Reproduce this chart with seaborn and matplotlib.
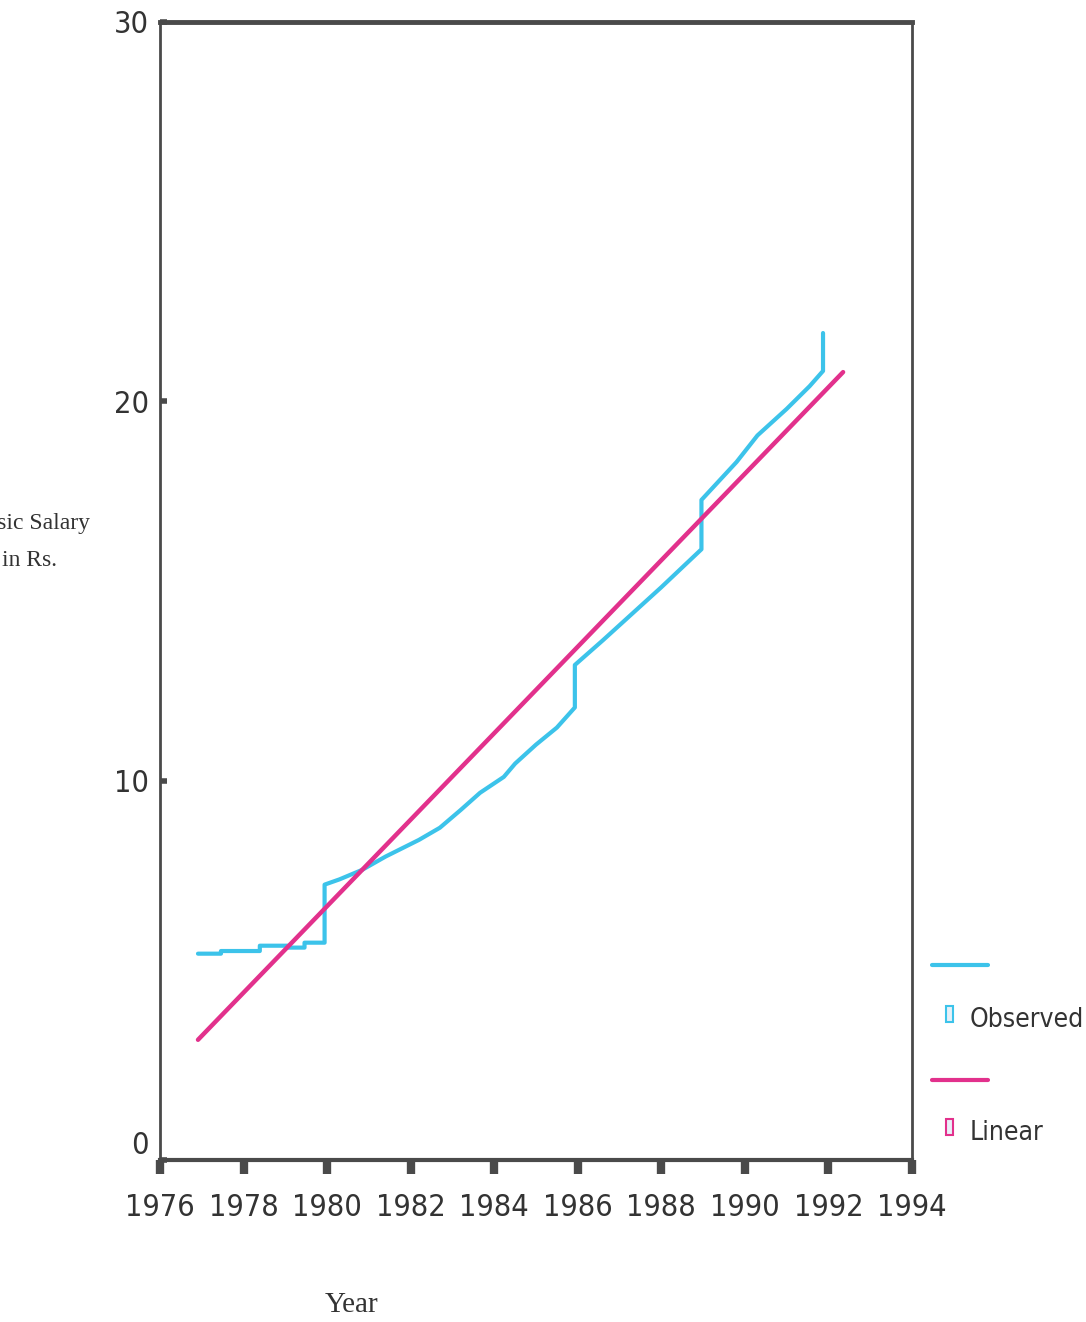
import matplotlib
matplotlib.use("Agg")
import matplotlib.pyplot as plt
from matplotlib.lines import Line2D
from matplotlib.patches import Rectangle
import pandas as pd
import seaborn as sns

CYAN = "#3cc3ea"
MAGENTA = "#e2318c"
AXIS = "#4a4a4a"

# observed salary (step jumps are repeated years)
OBS_YEAR = [1976.91, 1977.46, 1977.46, 1978.39, 1978.39, 1979.05, 1979.05,
            1979.46, 1979.46, 1979.94, 1979.94, 1980.3, 1980.84, 1981.4,
            1982.2, 1982.7, 1983.2, 1983.66, 1984.23, 1984.5, 1985.0, 1985.5,
            1985.93, 1985.93, 1986.6, 1987.3, 1988.0, 1988.96, 1988.96,
            1989.8, 1990.3, 1991.0, 1991.55, 1991.87, 1991.87]
OBS_SAL = [5.44, 5.44, 5.51, 5.51, 5.65, 5.65, 5.6,
           5.6, 5.73, 5.73, 7.26, 7.4, 7.65, 8.0,
           8.44, 8.76, 9.23, 9.68, 10.1, 10.45, 10.95, 11.4,
           11.93, 13.05, 13.7, 14.4, 15.1, 16.1, 17.4,
           18.4, 19.1, 19.8, 20.4, 20.8, 21.8]
# linear fit end points
LIN_YEAR = [1976.91, 1992.35]
LIN_SAL = [3.17, 20.77]

X_TICKS = list(range(1976, 1995, 2))
Y_TICKS = [0, 10, 20, 30]

obs = pd.DataFrame({"year": OBS_YEAR, "salary": OBS_SAL})
lin = pd.DataFrame({"year": LIN_YEAR, "salary": LIN_SAL})

sns.set_theme(style="white")
SANS = ["DejaVu Sans"]
SERIF = ["Liberation Serif", "DejaVu Serif"]
TXT = dict(family=SANS, fontstretch="condensed", color="#333333")

fig = plt.figure(figsize=(10.86, 13.22), dpi=100)
ax = fig.add_axes([0.1473, 0.1225, 0.6925, 0.8609])

sns.lineplot(data=obs, x="year", y="salary", sort=False, estimator=None,
             color=CYAN, linewidth=3, ax=ax)
sns.lineplot(data=lin, x="year", y="salary", sort=False, estimator=None,
             color=MAGENTA, linewidth=3.2, ax=ax)

ax.set_xlim(1976, 1994)
ax.set_ylim(0, 30)
ax.set_xticks(X_TICKS)
ax.set_yticks(Y_TICKS)
ax.set_xticklabels([str(t) for t in X_TICKS], fontsize=22, **TXT)
ax.set_yticklabels([str(t) for t in Y_TICKS], fontsize=22, **TXT)
ax.get_yticklabels()[0].set_va("bottom")
ax.set_xlabel("")
ax.set_ylabel("")
ax.tick_params(axis="x", direction="out", length=10, width=6, color=AXIS,
               pad=14, bottom=True)
ax.tick_params(axis="y", direction="in", length=5, width=4, color=AXIS,
               pad=8, left=True)

for side, lw in [("top", 3.5), ("bottom", 3), ("left", 2), ("right", 2)]:
    ax.spines[side].set_visible(True)
    ax.spines[side].set_color(AXIS)
    ax.spines[side].set_linewidth(lw)
ax.grid(False)

# axis titles (the y title is cropped at the left edge, as in the scan)
fig.text(0.0829, 0.604, "Basic Salary", ha="right", va="center",
         family=SERIF, fontsize=17, color="#333333")
fig.text(0.0525, 0.576, "in Rs.", ha="right", va="center",
         family=SERIF, fontsize=17, color="#333333")
fig.text(0.324, 0.0129, "Year", ha="center", va="center",
         family=SERIF, fontsize=21, color="#333333")

# legend
W, H = 1086, 1322
for y_line, y_lab, col, lab in [(965, 1020, CYAN, "Observed"),
                                (1080, 1133, MAGENTA, "Linear")]:
    fig.add_artist(Line2D([932 / W, 988 / W], [1 - y_line / H, 1 - y_line / H],
                          color=col, linewidth=3))
    fig.add_artist(Rectangle((946 / W, 1 - (y_lab + 2) / H), 7 / W, 16 / H,
                             facecolor="#e8f0f8", edgecolor=col, linewidth=1.5))
    fig.text(970 / W, 1 - y_lab / H, lab, ha="left", va="center",
             fontsize=19, **TXT)

fig.savefig("out.png", dpi=100)
